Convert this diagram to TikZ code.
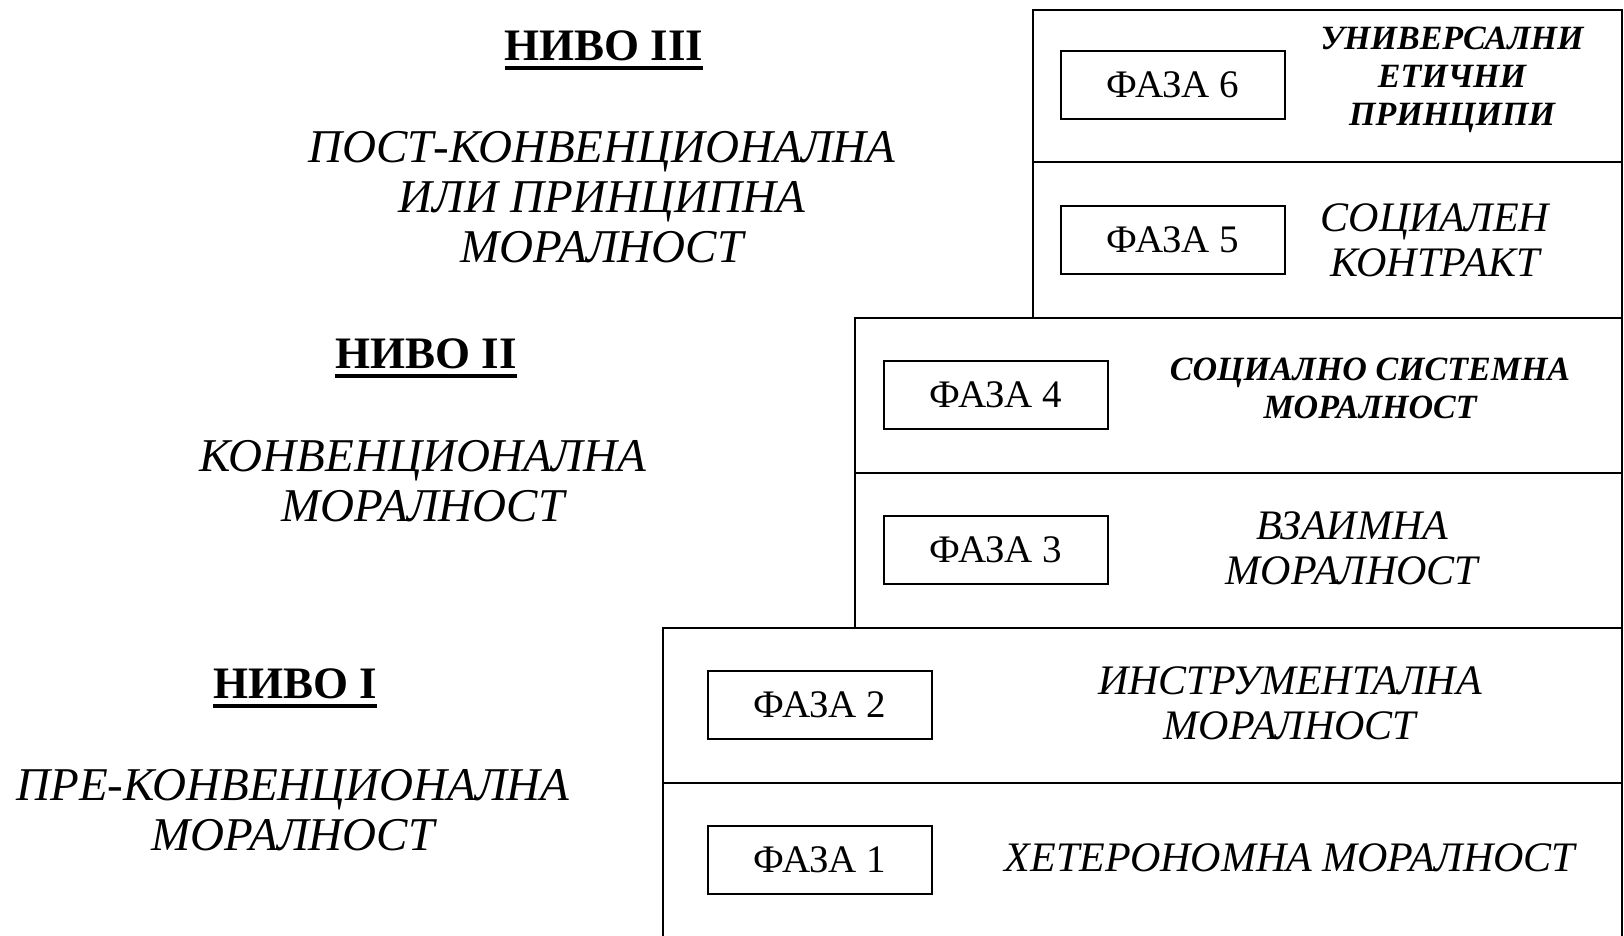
\documentclass[tikz,border=0pt]{standalone}
\usepackage{fontspec}
\setmainfont{Liberation Serif}
\usetikzlibrary{positioning}
\newcommand{\ulthick}[1]{\vtop{\hbox{#1}\kern5pt\hrule height 4pt}}
\tikzstyle{stagebox} = [draw, line width=1.5pt, minimum width=224pt, minimum height=68pt, inner sep=0pt, font=\fontsize{39}{42}\selectfont]
\tikzstyle{levelhead} = [inner sep=0pt, font=\fontsize{45}{50}\selectfont\bfseries]
\tikzstyle{leveltext} = [align=center, inner sep=0pt, font=\fontsize{47}{50}\selectfont\itshape]
\tikzstyle{stagetext} = [align=center, inner sep=0pt, font=\fontsize{42}{45}\selectfont\itshape]
\tikzstyle{stagebold} = [align=center, inner sep=0pt, font=\fontsize{34}{38}\selectfont\bfseries\itshape]
\tikzstyle{frame} = [line width=1.5pt]

\begin{document}
\begin{tikzpicture}[x=1pt, y=-1pt]
    \useasboundingbox (0,0) rectangle (1624,936);

    % Level blocks
    \draw[frame] (663,936) -- (663,628) -- (1622,628) -- (1622,936);
    \draw[frame] (663,783) -- (1622,783);
    \draw[frame] (855,628) -- (855,318) -- (1622,318) -- (1622,628);
    \draw[frame] (855,473) -- (1622,473);
    \draw[frame] (1033,318) -- (1033,10) -- (1622,10) -- (1622,318);
    \draw[frame] (1033,162) -- (1622,162);

    % Stages
    \node[stagebox] (faza6) at (1173,85) {ФАЗА 6};
    \node[stagebox] (faza5) at (1173,240) {ФАЗА 5};
    \node[stagebox] (faza4) at (996,395) {ФАЗА 4};
    \node[stagebox] (faza3) at (996,550) {ФАЗА 3};
    \node[stagebox] (faza2) at (820,705) {ФАЗА 2};
    \node[stagebox] (faza1) at (820,860) {ФАЗА 1};

    % Stage names
    \node[stagebold] (ime6) at (1452,80) {УНИВЕРСАЛНИ\\ЕТИЧНИ\\ПРИНЦИПИ};
    \node[stagetext] (ime5) at (1435,240) {СОЦИАЛЕН\\КОНТРАКТ};
    \node[stagebold] (ime4) at (1370,388) {СОЦИАЛНО СИСТЕМНА\\МОРАЛНОСТ};
    \node[stagetext] (ime3) at (1352,548) {ВЗАИМНА\\МОРАЛНОСТ};
    \node[stagetext] (ime2) at (1290,703) {ИНСТРУМЕНТАЛНА\\МОРАЛНОСТ};
    \node[stagetext] (ime1) at (1290,858) {ХЕТЕРОНОМНА МОРАЛНОСТ};

    % Levels
    \node[levelhead] (nivo3) at (604,50) {\ulthick{НИВО III}};
    \node[leveltext] (opis3) at (602,197) {ПОСТ-КОНВЕНЦИОНАЛНА\\ИЛИ ПРИНЦИПНА\\МОРАЛНОСТ};
    \node[levelhead] (nivo2) at (426,358) {\ulthick{НИВО II}};
    \node[leveltext] (opis2) at (423,481) {КОНВЕНЦИОНАЛНА\\МОРАЛНОСТ};
    \node[levelhead] (nivo1) at (295,688) {\ulthick{НИВО I}};
    \node[leveltext] (opis1) at (293,810) {ПРЕ-КОНВЕНЦИОНАЛНА\\МОРАЛНОСТ};
\end{tikzpicture}
\end{document}
